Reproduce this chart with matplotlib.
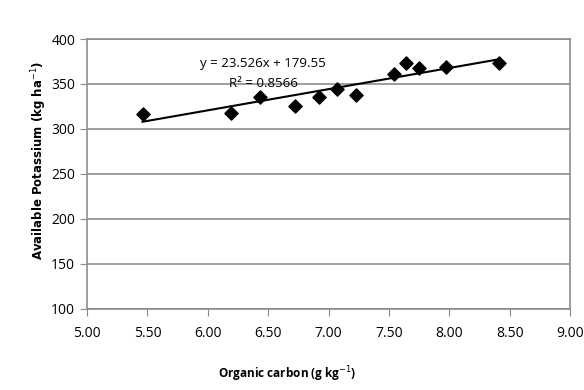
import numpy as np
import matplotlib.pyplot as plt

plt.rcParams['font.family'] = ['Open Sans', 'DejaVu Sans']

# organic carbon (g/kg) and available potassium (kg/ha)
carbon = [5.46, 6.19, 6.43, 6.72, 6.92, 7.07, 7.23, 7.54, 7.645, 7.75, 7.97, 8.41]
potassium = [317, 318, 335, 326, 335, 344, 338, 361, 373, 368, 369, 373]

slope = 23.526
intercept = 179.55
r2 = 0.8566

x_ticks = [5.0, 5.5, 6.0, 6.5, 7.0, 7.5, 8.0, 8.5, 9.0]
y_ticks = [100, 150, 200, 250, 300, 350, 400]

fig = plt.figure(figsize=(5.84, 3.9), dpi=100)
ax = fig.add_axes([0.149, 0.208, 0.827, 0.692])

for y in y_ticks:
    ax.axhline(y, color='#8c8c8c', lw=1.2, zorder=0)

# trendline
xl = np.array([min(carbon), max(carbon)])
ax.plot(xl, slope * xl + intercept, color='black', lw=1.5, zorder=2)

ax.scatter(carbon, potassium, marker='D', s=45, color='black', zorder=3)

ax.text(6.46, 373, 'y = 23.526x + 179.55', ha='center', va='center', fontsize=9.5)
ax.text(6.46, 350, 'R² = 0.8566', ha='center', va='center', fontsize=9.5)

ax.set_xlim(5, 9)
ax.set_ylim(100, 400)
ax.set_xticks(x_ticks)
ax.set_xticklabels(['%.2f' % v for v in x_ticks])
ax.set_yticks(y_ticks)
ax.tick_params(direction='out', length=5, color='#8c8c8c', labelsize=10)
ax.tick_params(axis='x', pad=7)

for s in ax.spines.values():
    s.set_color('#8c8c8c')
    s.set_linewidth(1.2)

ax.set_xlabel('Organic carbon (g kg$^{-1}$)', fontsize=8.5, fontweight='bold')
ax.set_ylabel('Available Potassium (kg ha$^{-1}$)', fontsize=8.5, fontweight='bold',
              family='DejaVu Sans')
ax.xaxis.set_label_coords(0.415, -0.205)
ax.yaxis.set_label_coords(-0.078, 0.55)

fig.savefig('out.png', dpi=100)
